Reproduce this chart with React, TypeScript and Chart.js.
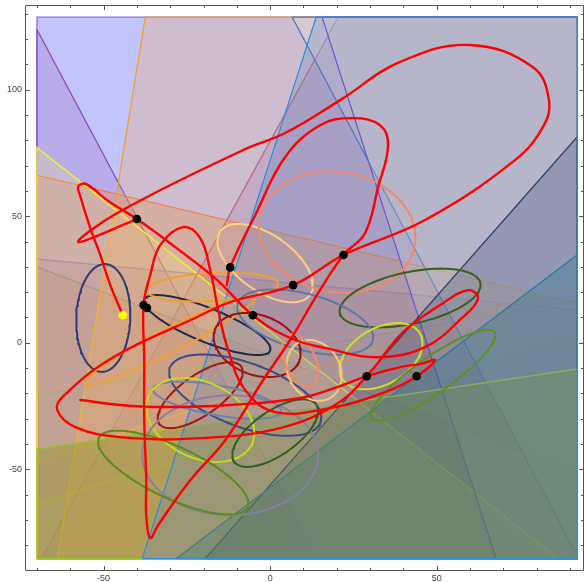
import React, { useEffect, useRef } from 'react';
import { Chart, registerables } from 'chart.js';

Chart.register(...registerables);

// ---- axes ----
const X_MIN = -73.6;
const X_MAX = 93.22;
const X_FRAME_RIGHT = 94.3;
const Y_MIN = -89.8;
const Y_MAX = 133.5;
const xTickLabels = [-50, 0, 50];
const yTickLabels = [-50, 0, 50, 100];
const xMinorTicks = [-70, -60, -50, -40, -30, -20, -10, 0, 10, 20, 30, 40, 50, 60, 70, 80, 90];
const yMinorTicks = [-80, -70, -60, -50, -40, -30, -20, -10, 0, 10, 20, 30, 40, 50, 60, 70, 80, 90, 100, 110, 120, 130];

// plotted region (rectangle the half-planes are clipped to)
const regionX = [-70, 92.2];
const regionY = [-85.3, 128.7];

// ---- half-plane boundaries [xA, yA, xB, yB], bottom layer first ----
const planeLines = [
  [-80, -100, -80, 140],
  [-69.9, 123.5, 14.4, -85.3],
  [20.4, 128.7, -68.7, -85.3],
  [-69.9, 29.9, 92.1, -51.1],
  [-69.9, 33.1, 92.1, 12.9],
  [-69.9, -20.7, 92.1, 16.9],
  [-69.9, -46.7, 92.1, 23.6],
  [-69.9, -63.8, 92.1, 3.0],
  [-69.9, 66.2, 92.1, 15.7],
  [-37.5, 128.7, -63.9, -85.3],
  [-69.9, 77.0, 86.4, -85.3],
  [6.6, 128.7, 92.1, -84.0],
  [15.6, 128.7, 67.8, -85.3],
  [-19.5, -85.3, 92.1, 81.3],
  [-28.2, -85.3, 92.1, 34.7],
  [-69.9, -42.0, 92.1, -10.4],
  [13.8, 128.7, -38.4, -85.3],
];
// a point on the filled side of each boundary
const planeSides = [
  [0, 0], [-70, -85], [92, 128], [0, -85], [0, -85], [0, -85], [0, -85], [0, -85], [0, -85],
  [92, 0], [-70, -85], [92, 128], [92, 128], [92, -85], [92, -85], [0, -85], [92, 0],
];
const planeEdgeColors = [
  '#8c72e6', '#9050c0', '#a06090', '#7080b8', '#8470e8', '#70a090', '#e0a050', '#88c848',
  '#f07838', '#f0a030', '#f8f020', '#5878b8', '#7050c8', '#203048', '#1f7a8a', '#98c028', '#2a8fe0',
];
const planeFillColors = [
  'rgba(100,110,245,0.40)', 'rgba(148,72,166,0.20)', 'rgba(132,76,184,0.20)', 'rgba(150,100,140,0.22)',
  'rgba(125,90,170,0.25)', 'rgba(100,150,130,0.06)', 'rgba(230,150,60,0.06)', 'rgba(130,200,70,0.06)',
  'rgba(230,140,70,0.30)', 'rgba(245,165,70,0.25)', 'rgba(250,240,110,0.20)', 'rgba(240,243,210,0.23)',
  'rgba(240,243,210,0.23)', 'rgba(30,40,70,0.25)', 'rgba(20,110,125,0.33)', 'rgba(130,150,20,0.35)',
  'rgba(85,128,200,0.25)',
];

// ---- ellipses: centre and two conjugate semi-axes (data units) ----
const ellipseCenters = [
  [-50.1, 9.8], [-18.9, 7.0], [-17.4, 22.0], [-30.0, 1.1], [-1.5, 31.5], [20.1, 43.8],
  [42.0, 17.7], [10.5, 8.2], [-3.9, -0.9], [-21.0, -20.7], [-7.5, -20.7], [-15.9, -22.7],
  [-21.0, -30.5], [-12.0, -44.4], [-29.1, -51.3], [1.5, -35.7], [33.3, -5.3], [48.9, -12.8],
  [13.2, -10.9], [9.0, -6.9],
];
const ellipseAxisU = [
  [-0.6, -21.3], [18.9, -10.1], [19.8, 1.35], [25.4, 17.0], [13.5, -12.5], [23.3, -5.4],
  [21.1, 5.9], [20.3, -7.2], [12.7, -6.1], [12.3, 11.3], [22.6, -10.8], [19.2, -4.5],
  [15.5, -9.5], [26.4, 0], [22.3, -13.7], [12.3, 11.3], [11.7, 8.9], [18.4, 17.0],
  [4.8, -10.9], [3.5, -10.0],
];
const ellipseAxisV = [
  [-8.1, 0.4], [-1.9, -6.2], [0.22, -5.5], [1.6, -4.2], [-4.8, -9.1], [-3.1, -23.4],
  [1.6, -10.0], [-2.2, -10.7], [-3.1, -11.1], [3.4, -6.5], [-3.3, -11.9], [-0.8, -5.8],
  [-4.8, -13.6], [0, -23.7], [-3.3, -9.3], [3.8, -7.1], [4.2, -9.6], [3.1, -5.8],
  [-6.7, -5.1], [-4.1, -2.5],
];
const ellipseColors = [
  '#303a78', '#202850', '#f0a030', '#f0a030', '#f8d080', '#f08870',
  '#386018', '#6078a0', '#a01010', '#a01818', '#404888', '#7080b0',
  '#c8d820', '#8880a0', '#5a8a20', '#2e6020', '#c8e020', '#609020',
  '#f8c878', '#f08870',
];

const redStrokeA = [
  [-44.2, 10.9], [-48.0, 22.8], [-51.0, 34.7], [-54.0, 45.3], [-57.0, 57.9], [-57.6, 61.9],
  [-55.2, 62.7], [-48.6, 56.0], [-40.0, 48.9], [-28.5, 37.8], [-15.9, 24.8], [-5.2, 10.9],
  [6.0, 1.9], [18.0, -2.5], [32.1, -5.7], [46.5, -1.7], [57.6, 9.8], [62.4, 17.6],
  [59.4, 20.8], [51.0, 14.9], [39.9, 4.2], [29.0, -13.2], [19.5, -24.6], [3.0, -33.7],
  [-21.0, -37.7], [-45.0, -37.3], [-58.5, -33.3], [-63.9, -26.6], [-62.1, -21.1], [-47.1, -5.7],
  [-21.9, 10.2], [-12.0, 16.1], [6.9, 22.8], [22.0, 34.7], [46.5, 48.5], [73.5, 72.2],
  [81.9, 85.3], [83.7, 95.9], [78.9, 108.9], [60.0, 117.7], [39.0, 111.0], [21.0, 95.9],
  [4.5, 82.9], [-8.1, 76.2], [-45.9, 51.3], [-57.6, 39.8], [-40.0, 48.9],
];
const redStrokeB = [
  [-13.0, 22.8], [-12.0, 29.8], [-4.5, 50.4], [4.5, 73.4], [15.0, 86.0], [24.6, 88.8],
  [33.0, 86.0], [35.4, 78.1], [32.4, 61.5], [28.5, 43.4], [22.0, 34.7], [14.4, 19.6],
  [6.0, 1.1], [-2.1, -14.7], [-13.5, -38.5], [-24.0, -54.3], [-33.6, -72.0], [-36.0, -77.2],
  [-37.2, -68.2], [-37.2, -54.3], [-37.8, -30.7], [-37.8, -6.9], [-38.0, 14.9], [-36.0, 26.8],
  [-33.0, 38.6], [-26.1, 45.7], [-21.0, 41.4], [-18.0, 28.7], [-15.6, 12.9], [-12.6, -2.9],
  [-7.5, -18.7], [1.5, -27.4], [18.0, -25.8], [34.5, -19.5], [44.0, -13.2], [49.5, -6.9],
  [45.0, -8.4], [39.0, -9.6], [29.0, -13.2], [21.0, -17.1], [9.0, -21.8], [-12.0, -24.6],
  [-33.0, -25.4], [-45.0, -24.6], [-57.0, -22.6],
];

// ---- marked points ----
const blackPointsX = [-40.0, -12.0, 6.9, 22.0, -38.0, -37.0, -5.2, 29.0, 44.0];
const blackPointsY = [48.9, 29.8, 22.8, 34.7, 14.9, 13.8, 10.9, -13.2, -13.2];
const startPoint = [-44.2, 10.9];

function clipHalfPlane(line: number[], side: number[]) {
  const [ax, ay, bx, by] = line;
  const f = (x: number, y: number) => (bx - ax) * (y - ay) - (by - ay) * (x - ax);
  const s = Math.sign(f(side[0], side[1]));
  const rect = [
    [regionX[0], regionY[0]], [regionX[1], regionY[0]],
    [regionX[1], regionY[1]], [regionX[0], regionY[1]],
  ];
  const out: number[][] = [];
  for (let i = 0; i < 4; i++) {
    const p = rect[i];
    const q = rect[(i + 1) % 4];
    const fp = s * f(p[0], p[1]);
    const fq = s * f(q[0], q[1]);
    if (fp >= 0) out.push(p);
    if ((fp >= 0) !== (fq >= 0)) {
      const t = fp / (fp - fq);
      out.push([p[0] + t * (q[0] - p[0]), p[1] + t * (q[1] - p[1])]);
    }
  }
  out.push(out[0]);
  return out.map(([x, y]) => ({ x, y }));
}

function ellipsePoints(i: number) {
  const [cx, cy] = ellipseCenters[i];
  const [ux, uy] = ellipseAxisU[i];
  const [vx, vy] = ellipseAxisV[i];
  const pts = [];
  const n = 120;
  for (let k = 0; k <= n; k++) {
    const t = (2 * Math.PI * k) / n;
    pts.push({ x: cx + ux * Math.cos(t) + vx * Math.sin(t), y: cy + uy * Math.cos(t) + vy * Math.sin(t) });
  }
  return pts;
}

const framePlugin = {
  id: 'mmaFrame',
  afterDraw(chart: any) {
    const { ctx, chartArea: a, scales } = chart;
    const xs = scales.x;
    const ys = scales.y;
    ctx.save();
    ctx.strokeStyle = '#555555';
    ctx.lineWidth = 1;
    const L = Math.round(a.left) + 0.5;
    const R = Math.round(xs.getPixelForValue(X_FRAME_RIGHT)) - 0.5;
    const T = Math.round(a.top) + 0.5;
    const B = Math.round(a.bottom) + 0.5;
    ctx.beginPath();
    ctx.moveTo(L, T); ctx.lineTo(R, T); ctx.lineTo(R, B); ctx.lineTo(L, B); ctx.closePath();
    ctx.stroke();
    ctx.beginPath();
    for (const v of xMinorTicks) {
      const len = xTickLabels.includes(v) ? 4.5 : 2.5;
      const px = Math.round(xs.getPixelForValue(v)) + 0.5;
      ctx.moveTo(px, B); ctx.lineTo(px, B - len);
      ctx.moveTo(px, T); ctx.lineTo(px, T + len);
    }
    for (const v of yMinorTicks) {
      const len = yTickLabels.includes(v) ? 4.5 : 2.5;
      const py = Math.round(ys.getPixelForValue(v)) + 0.5;
      ctx.moveTo(L, py); ctx.lineTo(L + len, py);
      ctx.moveTo(R, py); ctx.lineTo(R - len, py);
    }
    ctx.stroke();
    ctx.restore();
  },
};

export default function App() {
  const ref = useRef<HTMLCanvasElement | null>(null);

  useEffect(() => {
    if (!ref.current) return;
    const layers: any[] = [];
    planeLines.forEach((ln, i) => {
      layers.push({
        data: clipHalfPlane(ln, planeSides[i]),
        showLine: true,
        fill: 'shape',
        backgroundColor: planeFillColors[i],
        borderColor: planeEdgeColors[i],
        borderWidth: 1.3,
        pointRadius: 0,
        tension: 0,
      });
    });
    ellipseCenters.forEach((_, i) => {
      layers.push({
        data: ellipsePoints(i),
        showLine: true,
        fill: false,
        borderColor: ellipseColors[i],
        borderWidth: 2,
        pointRadius: 0,
        tension: 0,
      });
    });
    [redStrokeA, redStrokeB].forEach((stroke) => {
      layers.push({
        data: stroke.map(([x, y]) => ({ x, y })),
        showLine: true,
        fill: false,
        borderColor: '#ff0000',
        borderWidth: 2.4,
        pointRadius: 0,
        tension: 0.4,
        borderCapStyle: 'round',
        borderJoinStyle: 'round',
      });
    });
    layers.push({
      data: blackPointsX.map((x, i) => ({ x, y: blackPointsY[i] })),
      showLine: false,
      pointRadius: 4.3,
      pointBackgroundColor: '#000000',
      pointBorderWidth: 0,
    });
    layers.push({
      data: [{ x: startPoint[0], y: startPoint[1] }],
      showLine: false,
      pointRadius: 4.3,
      pointBackgroundColor: '#ffff00',
      pointBorderWidth: 0,
    });

    const tickFont = { family: "'Liberation Sans', Arial, sans-serif", size: 9 };
    const chart = new Chart(ref.current, {
      type: 'line',
      data: { datasets: layers.reverse() },
      options: {
        animation: false,
        responsive: false,
        events: [],
        layout: { padding: { top: 5, right: 1, left: 0, bottom: 0 } },
        plugins: { legend: { display: false }, tooltip: { enabled: false } },
        scales: {
          x: {
            type: 'linear',
            min: X_MIN,
            max: X_MAX,
            grid: { display: false, drawTicks: false },
            border: { display: false },
            afterBuildTicks: (s: any) => { s.ticks = xTickLabels.map((v) => ({ value: v })); },
            afterFit: (s: any) => { s.height = 12; s.paddingLeft = 0; s.paddingRight = 0; },
            ticks: { autoSkip: false, maxRotation: 0, padding: 3, color: '#444444', font: tickFont },
          },
          y: {
            type: 'linear',
            min: Y_MIN,
            max: Y_MAX,
            grid: { display: false, drawTicks: false },
            border: { display: false },
            afterBuildTicks: (s: any) => { s.ticks = yTickLabels.map((v) => ({ value: v })); },
            afterFit: (s: any) => { s.width = 25; s.paddingTop = 0; s.paddingBottom = 0; },
            ticks: { autoSkip: false, padding: 3, color: '#444444', font: tickFont },
          },
        },
      },
      plugins: [framePlugin],
    } as any);
    return () => chart.destroy();
  }, []);

  return (
    <div style={{ position: 'absolute', left: 0, top: 0, width: 585, height: 582 }}>
      <canvas ref={ref} width={585} height={582} style={{ display: 'block' }} />
    </div>
  );
}
